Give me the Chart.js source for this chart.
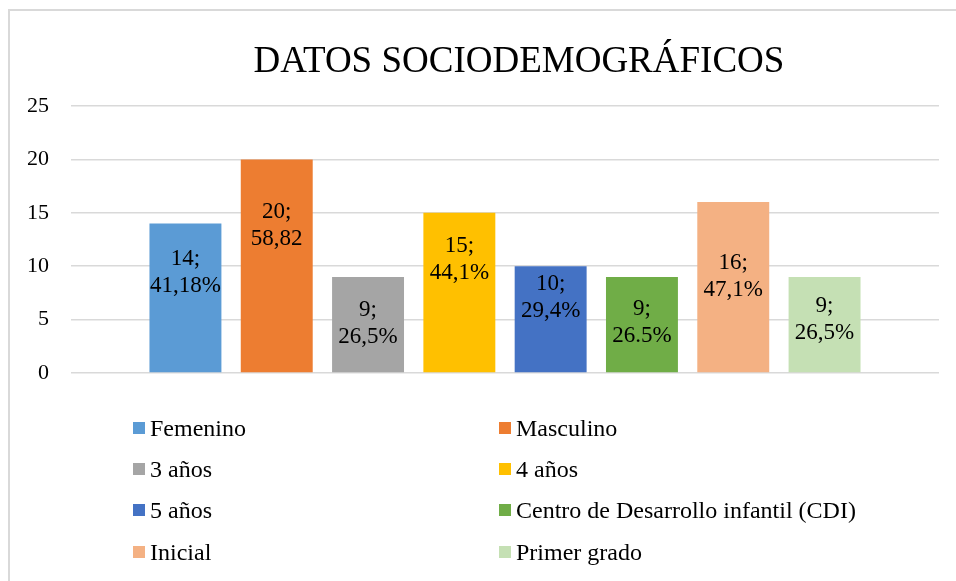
<!DOCTYPE html>
<html>
<head>
<meta charset="utf-8">
<script src="https://cdn.jsdelivr.net/npm/chart.js@4/dist/chart.umd.min.js"></script>
<style>
  html, body { margin: 0; padding: 0; background: #fff; width: 956px; height: 581px; overflow: hidden; }
  #wrap { position: absolute; left: 0; top: 0; width: 1038px; height: 581px; }
  #frame { position: absolute; left: 8px; top: 9px; width: 1100px; height: 700px;
           border-top: 2px solid #d9d9d9; border-left: 2px solid #d9d9d9; box-sizing: border-box; }
  #legend { position: absolute; left: 0; top: 0; width: 956px; height: 581px; pointer-events: none;
            font-family: "Liberation Serif", "Times New Roman", serif; font-size: 24px; color: #000; }
  .item { position: absolute; display: flex; align-items: center; height: 28px; white-space: nowrap; }
  .box { width: 12px; height: 12px; margin-right: 5px; flex: none; }
</style>
</head>
<body>
<div id="frame"></div>
<div id="wrap"><canvas id="c" width="1038" height="581"></canvas></div>
<div id="legend"></div>
<script>
// ---- data ----
const seriesNames = ["Femenino", "Masculino", "3 años", "4 años", "5 años",
                     "Centro de Desarrollo infantil (CDI)", "Inicial", "Primer grado"];
const seriesValues = [14, 20, 9, 15, 10, 9, 16, 9];
const percentLabels = ["41,18%", "58,82", "26,5%", "44,1%", "29,4%", "26.5%", "47,1%", "26,5%"];
const seriesColors = ["#5B9BD5", "#ED7D31", "#A5A5A5", "#FFC000", "#4472C4", "#70AD47", "#F4B183", "#C5E0B4"];
const yTicks = [0, 5, 10, 15, 20, 25];
const titleText = "DATOS SOCIODEMOGRÁFICOS";
// label vertical offsets (style, px from bar centre)
const labelShift = [-25, -40, -1, -33, -22, -2, -11, -5];

const serif = "'Liberation Serif', 'Times New Roman', serif";

const datasets = seriesNames.map((name, i) => ({
  label: name,
  data: [seriesValues[i]],
  backgroundColor: seriesColors[i],
  borderWidth: 0,
  categoryPercentage: 0.8415,
  barPercentage: 0.788
}));

const barLabels = {
  id: 'barLabels',
  afterDatasetsDraw(chart) {
    const ctx = chart.ctx;
    ctx.save();
    ctx.font = "23px " + serif;
    ctx.fillStyle = "#000";
    ctx.textAlign = "center";
    ctx.textBaseline = "middle";
    chart.data.datasets.forEach((ds, i) => {
      const el = chart.getDatasetMeta(i).data[0];
      const cy = (el.y + el.base) / 2 + labelShift[i];
      ctx.fillText(ds.data[0] + ";", el.x, cy - 13.5);
      ctx.fillText(percentLabels[i], el.x, cy + 13.5);
    });
    ctx.restore();
  }
};

const chart = new Chart(document.getElementById('c'), {
  type: 'bar',
  data: { labels: [""], datasets },
  options: {
    responsive: false,
    animation: false,
    layout: { padding: { left: 0, right: 0, top: 0, bottom: 208 } },
    plugins: {
      legend: { display: false },
      tooltip: { enabled: false },
      title: {
        display: true,
        text: titleText,
        color: "#000",
        font: { family: serif, size: 37, weight: 'normal', lineHeight: 1.2 },
        padding: { top: 40, bottom: 21.6 }
      }
    },
    scales: {
      x: { display: false },
      y: {
        min: 0, max: 25,
        afterBuildTicks(scale) { scale.ticks = yTicks.map(v => ({ value: v })); },
        afterFit(scale) { scale.width = 71; },
        border: { display: false },
        grid: { color: "#d9d9d9", lineWidth: 1.5, drawTicks: false },
        ticks: { padding: 22, color: "#000", font: { family: serif, size: 22 } }
      },
      yRight: {
        position: 'right',
        min: 0, max: 25,
        afterFit(scale) { scale.width = 99; },
        border: { display: false },
        grid: { display: false, drawTicks: false },
        ticks: { display: false }
      }
    }
  },
  plugins: [barLabels]
});

// HTML legend in two columns built from the series arrays
const legend = document.getElementById('legend');
const colX = [133, 499];
const rowY = [428, 469, 510, 552];
seriesNames.forEach((name, i) => {
  const d = document.createElement('div');
  d.className = 'item';
  d.style.left = colX[i % 2] + 'px';
  d.style.top = (rowY[Math.floor(i / 2)] - 14) + 'px';
  const b = document.createElement('span');
  b.className = 'box';
  b.style.background = seriesColors[i];
  const t = document.createElement('span');
  t.textContent = name;
  d.appendChild(b); d.appendChild(t);
  legend.appendChild(d);
});
</script>
</body>
</html>
